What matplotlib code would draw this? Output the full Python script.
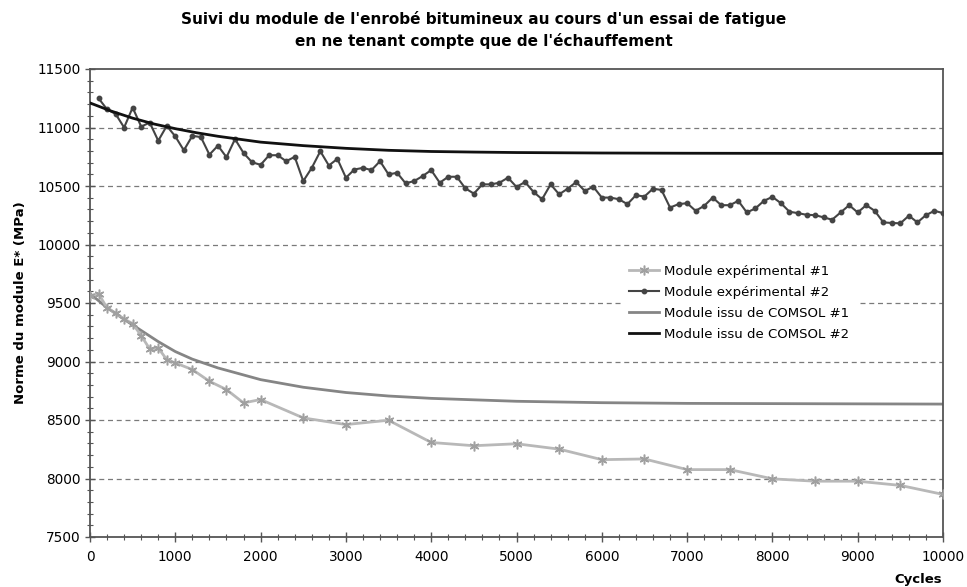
import matplotlib
matplotlib.use("Agg")
import matplotlib.pyplot as plt
from matplotlib.ticker import MultipleLocator

# ---------------- data ----------------
title = "Suivi du module de l'enrobé bitumineux au cours d'un essai de fatigue\nen ne tenant compte que de l'échauffement"
ylabel = "Norme du module E* (MPa)"
xlabel = "Cycles"
labels = ["Module expérimental #1", "Module expérimental #2",
          "Module issu de COMSOL #1", "Module issu de COMSOL #2"]

exp1_cycles = [0, 100, 200, 300, 400, 500, 600, 700, 800, 900, 1000, 1200, 1400,
               1600, 1800, 2000, 2500, 3000, 3500, 4000, 4500, 5000, 5500, 6000,
               6500, 7000, 7500, 8000, 8500, 9000, 9500, 10000]
exp1_values = [9560, 9580, 9457, 9415, 9363, 9324, 9221, 9107, 9116, 9016, 8988,
               8931, 8831, 8760, 8646, 8675, 8518, 8461, 8498, 8308, 8280, 8297,
               8251, 8161, 8167, 8076, 8076, 7997, 7977, 7977, 7941, 7864]

exp2_cycles = list(range(100, 10001, 100))
exp2_values = [11250, 11155, 11116, 11000, 11170, 11008, 11042, 10887, 11014, 10924,
               10805, 10929, 10918, 10768, 10845, 10746, 10901, 10782, 10703, 10681,
               10763, 10763, 10712, 10749, 10542, 10655, 10797, 10675, 10732, 10571,
               10641, 10655, 10636, 10712, 10599, 10613, 10523, 10542, 10585, 10636,
               10528, 10579, 10579, 10480, 10435, 10514, 10514, 10528, 10571, 10492,
               10534, 10449, 10387, 10514, 10429, 10477, 10534, 10458, 10494, 10401,
               10401, 10387, 10345, 10421, 10410, 10477, 10466, 10316, 10345, 10353,
               10288, 10330, 10401, 10336, 10336, 10373, 10274, 10308, 10373, 10407,
               10353, 10280, 10268, 10254, 10251, 10232, 10212, 10274, 10336, 10274,
               10336, 10288, 10189, 10184, 10181, 10246, 10189, 10251, 10288, 10268]

com1_cycles = [0, 200, 400, 600, 800, 1000, 1200, 1500, 2000, 2500, 3000, 3500,
               4000, 5000, 6000, 7000, 8000, 9000, 10000]
com1_values = [9580, 9460, 9360, 9265, 9170, 9085, 9020, 8945, 8845, 8780, 8735,
               8705, 8685, 8660, 8648, 8642, 8640, 8638, 8636]

com2_cycles = [0, 250, 500, 750, 1000, 1250, 1500, 1750, 2000, 2500, 3000, 3500,
               4000, 4500, 5000, 6000, 7000, 8000, 9000, 10000]
com2_values = [11210, 11140, 11080, 11030, 10990, 10955, 10925, 10900, 10875,
               10845, 10822, 10805, 10795, 10790, 10786, 10782, 10780, 10779,
               10778, 10778]

# ---------------- figure ----------------
fig = plt.figure(figsize=(9.67, 5.87), dpi=100)
ax = fig.add_axes([90 / 967, 1 - 537 / 587, (943 - 90) / 967, (537 - 69) / 587])

l1, = ax.plot(exp1_cycles, exp1_values, color="#b8b8b8", lw=2.0,
              marker=(6, 2, 0), ms=7, mec="#a0a0a0", mew=1.1, zorder=3)
l2, = ax.plot(exp2_cycles, exp2_values, color="#444444", lw=1.5,
              marker="o", ms=3.2, mfc="#444444", mec="#444444", zorder=4)
l3, = ax.plot(com1_cycles, com1_values, color="#858585", lw=2.0, zorder=2)
l4, = ax.plot(com2_cycles, com2_values, color="#111111", lw=2.0, zorder=5)

ax.set_xlim(0, 10000)
ax.set_ylim(7500, 11500)
ax.xaxis.set_major_locator(MultipleLocator(1000))
ax.xaxis.set_minor_locator(MultipleLocator(200))
ax.yaxis.set_major_locator(MultipleLocator(500))
ax.yaxis.set_minor_locator(MultipleLocator(100))

for yv in range(8000, 11001, 500):
    ax.axhline(yv, color="#7a7a7a", lw=0.9, ls=(0, (4, 3)), zorder=1)

for s in ax.spines.values():
    s.set_color("#555555")
    s.set_linewidth(1.3)

ax.tick_params(axis="both", which="major", labelsize=9.8, color="#555555",
               direction="inout", length=7, width=1)
ax.tick_params(axis="both", which="minor", color="#555555",
               direction="inout", length=4, width=0.8)
ax.tick_params(axis="y", which="major", pad=3)
ax.tick_params(axis="x", which="major", pad=6)

ax.set_ylabel(ylabel, fontsize=9.5, fontweight="bold", labelpad=8)
fig.text(918 / 967, 1 - 580 / 587, xlabel, fontsize=9.5, fontweight="bold",
         ha="center", va="center")

fig.text(0.5, 1 - 30 / 587, title, fontsize=11, fontweight="bold",
         ha="center", va="center", linespacing=1.45)

leg = fig.legend([l1, l2, l3, l4], labels, loc="upper left",
                 bbox_to_anchor=(614 / 967, 1 - 250 / 587), fontsize=9.5,
                 frameon=True, fancybox=False, edgecolor="none",
                 facecolor="white", framealpha=1, handlelength=2.3,
                 handletextpad=0.4, labelspacing=0.62, borderpad=0.6)

fig.savefig("out.png", dpi=100, facecolor="white")
